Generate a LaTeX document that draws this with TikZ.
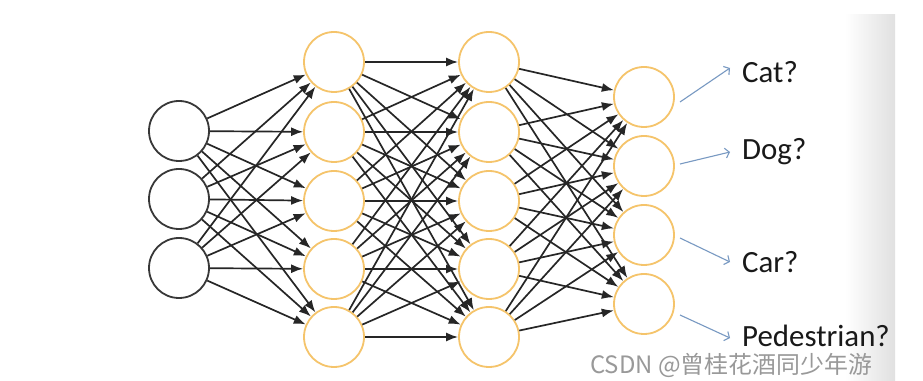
\documentclass[tikz,border=0pt]{standalone}
\usepackage{fontspec}
\setmainfont{Carlito}
\newfontfamily\cjkfont{Noto Sans CJK SC}
\usetikzlibrary{arrows.meta}
\definecolor{inputcol}{rgb}{0.22,0.22,0.22}
\definecolor{unitcol}{rgb}{0.96,0.77,0.42}
\definecolor{outcol}{rgb}{0.47,0.60,0.76}
\definecolor{markcol}{rgb}{0.60,0.60,0.60}
\tikzset{
  neuron/.style={circle,inner sep=0pt,minimum size=60bp,line width=1.8bp,fill=white},
  innode/.style={neuron,draw=inputcol},
  unit/.style={neuron,draw=unitcol},
  link/.style={->,line width=1.7bp,draw=black!85},
  guess/.style={-{Straight Barb[length=4bp,width=10bp]},line width=1.1bp,draw=outcol},
  answer/.style={anchor=west,font=\fontsize{31}{35}\selectfont,text=black!90,inner sep=0pt},
}
\begin{document}
\begin{tikzpicture}[>={Latex[length=12bp,width=9bp]},line join=bevel,]
%%
\begin{scope}
  \definecolor{fillcol}{rgb}{1.0,1.0,1.0};
  \fill[fillcol] (0bp,0bp) -- (0bp,381bp) -- (923bp,381bp) -- (923bp,0bp) -- cycle;
  \shade[left color=white,right color=black!12] (845bp,0bp) rectangle (895bp,366bp);
\end{scope}
\useasboundingbox (0bp,0bp) rectangle (923bp,381bp);
  \node (x1) at (179bp,250bp) [innode] {};
  \node (x2) at (179bp,182bp) [innode] {};
  \node (x3) at (179bp,113bp) [innode] {};
  \node (a1) at (334bp,319bp) [unit] {};
  \node (a2) at (334bp,249bp) [unit] {};
  \node (a3) at (334bp,180bp) [unit] {};
  \node (a4) at (334bp,112bp) [unit] {};
  \node (a5) at (334bp,44bp) [unit] {};
  \node (b1) at (489bp,319bp) [unit] {};
  \node (b2) at (489bp,249bp) [unit] {};
  \node (b3) at (489bp,180bp) [unit] {};
  \node (b4) at (489bp,112bp) [unit] {};
  \node (b5) at (489bp,44bp) [unit] {};
  \node (y1) at (644bp,284bp) [unit] {};
  \node (y2) at (644bp,215bp) [unit] {};
  \node (y3) at (644bp,146bp) [unit] {};
  \node (y4) at (644bp,77bp) [unit] {};
  \node (cat) at (742bp,309bp) [answer] {Cat?};
  \node (dog) at (742bp,229bp) [answer] {Dog?};
  \node (car) at (742bp,119bp) [answer] {Car?};
  \node (walker) at (742bp,45bp) [answer] {Pedestrian?};
  \node (mark) at (590bp,16bp) [anchor=west,inner sep=0pt,text=markcol,font=\cjkfont\fontsize{24}{26}\selectfont] {CSDN @曾桂花酒同少年游};
  \coordinate (s1) at (680bp,279bp);
  \coordinate (s2) at (680bp,217bp);
  \coordinate (s3) at (680bp,143bp);
  \coordinate (s4) at (680bp,66bp);
  \coordinate (t1) at (730bp,313bp);
  \coordinate (t2) at (730bp,229bp);
  \coordinate (t3) at (730bp,119bp);
  \coordinate (t4) at (730bp,43bp);
%
  \draw [link] (x1) -- (a1);
  \draw [link] (x1) -- (a2);
  \draw [link] (x1) -- (a3);
  \draw [link] (x1) -- (a4);
  \draw [link] (x1) -- (a5);
  \draw [link] (x2) -- (a1);
  \draw [link] (x2) -- (a2);
  \draw [link] (x2) -- (a3);
  \draw [link] (x2) -- (a4);
  \draw [link] (x2) -- (a5);
  \draw [link] (x3) -- (a1);
  \draw [link] (x3) -- (a2);
  \draw [link] (x3) -- (a3);
  \draw [link] (x3) -- (a4);
  \draw [link] (x3) -- (a5);
%
  \draw [link] (a1) -- (b1);
  \draw [link] (a1) -- (b2);
  \draw [link] (a1) -- (b3);
  \draw [link] (a1) -- (b4);
  \draw [link] (a1) -- (b5);
  \draw [link] (a2) -- (b1);
  \draw [link] (a2) -- (b2);
  \draw [link] (a2) -- (b3);
  \draw [link] (a2) -- (b4);
  \draw [link] (a2) -- (b5);
  \draw [link] (a3) -- (b1);
  \draw [link] (a3) -- (b2);
  \draw [link] (a3) -- (b3);
  \draw [link] (a3) -- (b4);
  \draw [link] (a3) -- (b5);
  \draw [link] (a4) -- (b1);
  \draw [link] (a4) -- (b2);
  \draw [link] (a4) -- (b3);
  \draw [link] (a4) -- (b4);
  \draw [link] (a4) -- (b5);
  \draw [link] (a5) -- (b1);
  \draw [link] (a5) -- (b2);
  \draw [link] (a5) -- (b3);
  \draw [link] (a5) -- (b4);
  \draw [link] (a5) -- (b5);
%
  \draw [link] (b1) -- (y1);
  \draw [link] (b1) -- (y2);
  \draw [link] (b1) -- (y3);
  \draw [link] (b1) -- (y4);
  \draw [link] (b2) -- (y1);
  \draw [link] (b2) -- (y2);
  \draw [link] (b2) -- (y3);
  \draw [link] (b2) -- (y4);
  \draw [link] (b3) -- (y1);
  \draw [link] (b3) -- (y2);
  \draw [link] (b3) -- (y3);
  \draw [link] (b3) -- (y4);
  \draw [link] (b4) -- (y1);
  \draw [link] (b4) -- (y2);
  \draw [link] (b4) -- (y3);
  \draw [link] (b4) -- (y4);
  \draw [link] (b5) -- (y1);
  \draw [link] (b5) -- (y2);
  \draw [link] (b5) -- (y3);
  \draw [link] (b5) -- (y4);
%
  \draw [guess] (s1) -- (t1);
  \draw [guess] (s2) -- (t2);
  \draw [guess] (s3) -- (t3);
  \draw [guess] (s4) -- (t4);
%
\end{tikzpicture}
\end{document}
